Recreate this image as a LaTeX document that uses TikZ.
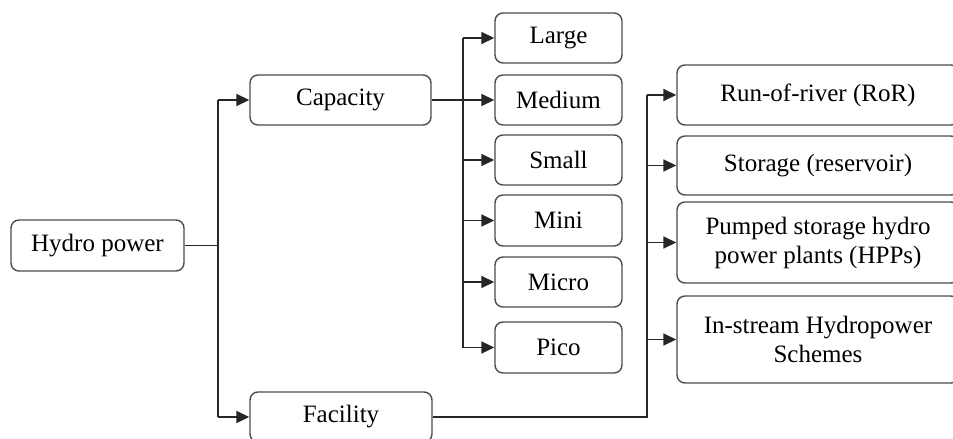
\documentclass[tikz,border=0pt]{standalone}
\usepackage{fontspec}
\setmainfont{Liberation Serif}
\usetikzlibrary{arrows.meta}
\begin{document}
\begin{tikzpicture}[x=1pt,y=-1pt,
  box/.style={draw=black!70, line width=1.4pt, rounded corners=8pt,
    inner sep=0pt, align=center, font=\fontsize{25}{29}\selectfont},
  conn/.style={draw=black!85, line width=1.6pt},
  arr/.style={conn, -{Triangle[length=13pt,width=12pt]}}]
\useasboundingbox (0,0) rectangle (953,439);
\fill[white] (0,0) rectangle (953,439);

% root and first level
\node[box, minimum width=173pt, minimum height=51pt] (hydro) at (97.5,245.5) {Hydro power};
\node[box, minimum width=181pt, minimum height=50pt] (cap) at (340.5,100) {Capacity};
\node[box, minimum width=182pt, minimum height=50pt] (fac) at (341,417) {Facility};

% capacity classes
\node[box, minimum width=127pt, minimum height=50pt] (large)  at (558.5,38)    {Large};
\node[box, minimum width=127pt, minimum height=50pt] (medium) at (558.5,100)   {Medium};
\node[box, minimum width=127pt, minimum height=50pt] (small)  at (558.5,160)   {Small};
\node[box, minimum width=127pt, minimum height=51pt] (mini)   at (558.5,220.5) {Mini};
\node[box, minimum width=127pt, minimum height=50pt] (micro)  at (558.5,282)   {Micro};
\node[box, minimum width=127pt, minimum height=51pt] (pico)   at (558.5,347.5) {Pico};

% facility types
\node[box, minimum width=282pt, minimum height=60pt] (ror)  at (818,95)    {Run-of-river (RoR)};
\node[box, minimum width=282pt, minimum height=59pt] (stor) at (818,165.5) {Storage (reservoir)};
\node[box, minimum width=282pt, minimum height=81pt] (pump) at (818,242.5) {Pumped storage hydro\\power plants (HPPs)};
\node[box, minimum width=282pt, minimum height=87pt] (inst) at (818,339.5) {In-stream Hydropower\\Schemes};

% branch points
\coordinate (hspine) at (218,245);
\coordinate (cspine) at (463,100);
\coordinate (fspine) at (647,417);

% root to first level
\draw[conn] (hydro.east) -- (hydro.east -| hspine);
\draw[conn] (cap.west -| hspine) -- (fac.west -| hspine);
\draw[arr] (cap.west -| hspine) -- (cap.west);
\draw[arr] (fac.west -| hspine) -- (fac.west);

% capacity branch
\draw[conn] (large.west -| cspine) -- (pico.west -| cspine);
\draw[arr] (cap.east) -- (medium.west);
\foreach \n in {large,small,mini,micro,pico}
  \draw[arr] (\n.west -| cspine) -- (\n.west);

% facility branch
\draw[conn] (fac.east) -- (fac.east -| fspine) -- (ror.west -| fspine);
\foreach \n in {ror,stor,pump,inst}
  \draw[arr] (\n.west -| fspine) -- (\n.west);
\end{tikzpicture}
\end{document}
